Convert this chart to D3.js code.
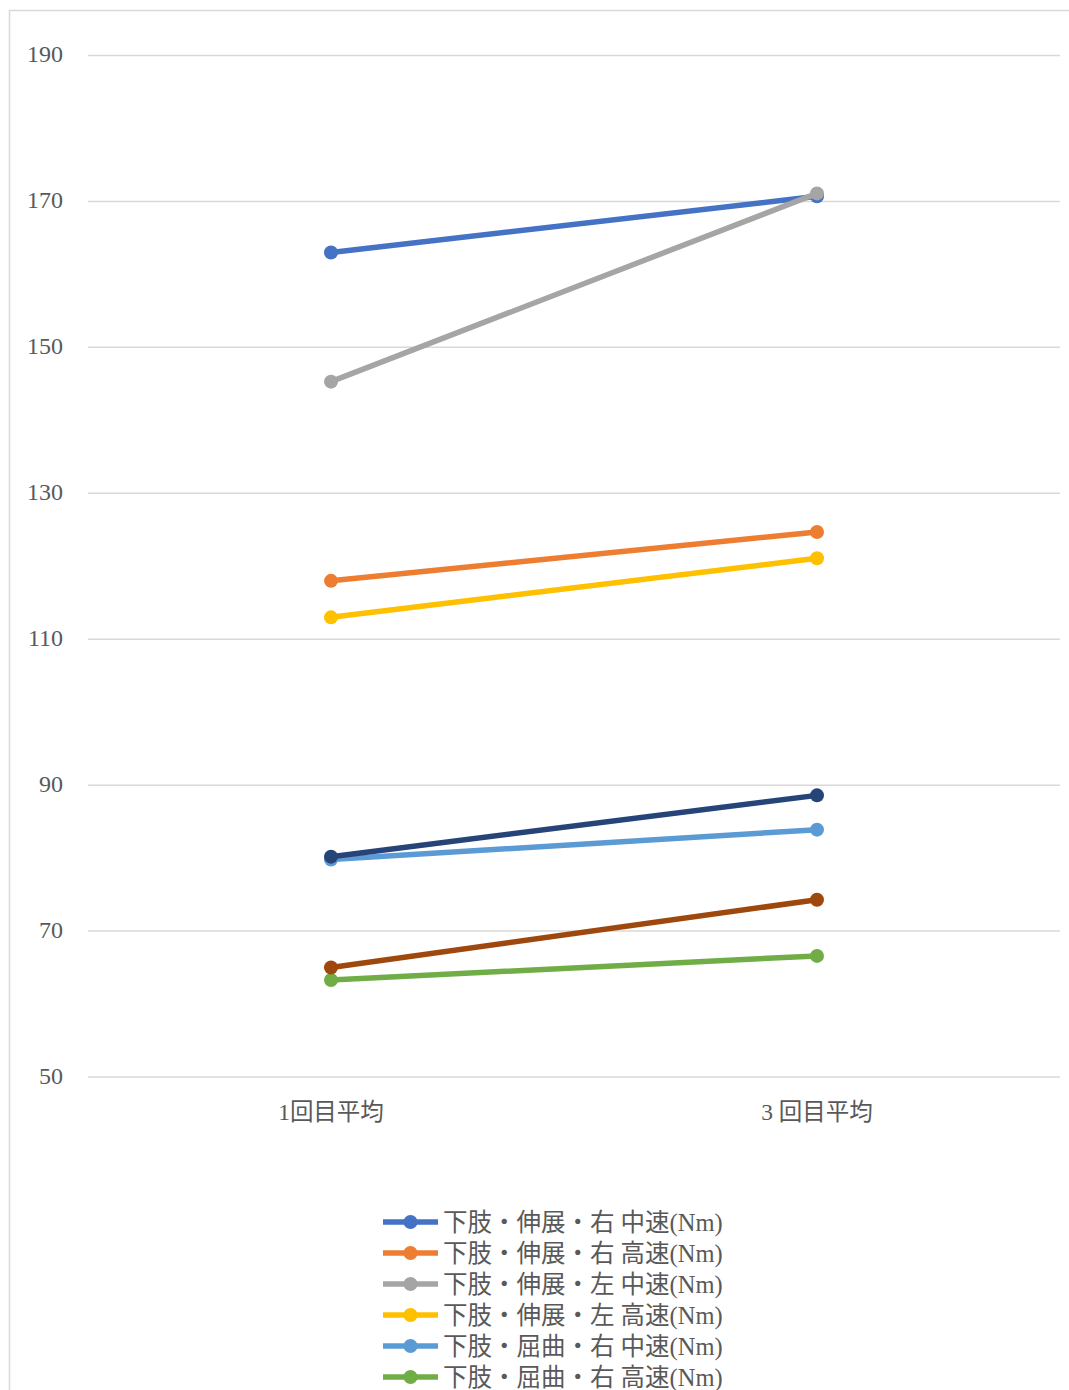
<!DOCTYPE html>
<html><head><meta charset="utf-8">
<script src="https://cdn.jsdelivr.net/npm/d3@7"></script>
<style>
html,body{margin:0;padding:0;background:#fff;overflow:hidden;}
text{font-family:"Liberation Serif","DejaVu Serif","Noto Sans CJK JP",serif;fill:#595959;}
</style></head>
<body>
<svg id="chart" width="1069" height="1390"></svg>
<script>
const categories = ["1回目平均", "3 回目平均"];
const seriesNames = [
  "下肢・伸展・右 中速(Nm)",
  "下肢・伸展・右 高速(Nm)",
  "下肢・伸展・左 中速(Nm)",
  "下肢・伸展・左 高速(Nm)",
  "下肢・屈曲・右 中速(Nm)",
  "下肢・屈曲・右 高速(Nm)",
  "下肢・屈曲・左 中速(Nm)",
  "下肢・屈曲・左 高速(Nm)"
];
const extRightMid  = [163.0, 170.7];
const extRightHigh = [118.0, 124.7];
const extLeftMid   = [145.3, 171.1];
const extLeftHigh  = [113.0, 121.1];
const flxRightMid  = [79.8, 83.9];
const flxRightHigh = [63.3, 66.6];
const flxLeftMid   = [80.2, 88.6];
const flxLeftHigh  = [65.0, 74.3];
const yTicks = [50, 70, 90, 110, 130, 150, 170, 190];
const colors = ["#4472C4","#ED7D31","#A5A5A5","#FFC000","#5B9BD5","#70AD47","#264478","#9E480E"];

const seriesValues = [extRightMid, extRightHigh, extLeftMid, extLeftHigh, flxRightMid, flxRightHigh, flxLeftMid, flxLeftHigh];
const series = seriesNames.map((n,i)=>({name:n, values:seriesValues[i], color:colors[i]}));

const svg = d3.select("#chart");
// chart frame
svg.append("rect").attr("x",9.5).attr("y",10.5).attr("width",1069).attr("height",1400)
  .attr("fill","none").attr("stroke","#d9d9d9").attr("stroke-width",1.5);

const x = d3.scaleBand().domain(categories).range([88,1060]);
const y = d3.scaleLinear().domain([50,190]).range([1077,55.5]);

// gridlines
svg.append("g").selectAll("line").data(yTicks).join("line")
  .attr("x1",88).attr("x2",1060)
  .attr("y1",d=>y(d)).attr("y2",d=>y(d))
  .attr("stroke","#d9d9d9").attr("stroke-width",1.5);

// y axis labels
const yAxis = d3.axisLeft(y).tickValues(yTicks).tickSize(0).tickPadding(0);
const gy = svg.append("g").attr("transform","translate(63,-2)").call(yAxis);
gy.select(".domain").remove();
gy.selectAll("text").attr("font-size",24).attr("dy","0.35em")
  .style("font-family",'"Liberation Serif","Noto Sans CJK JP",serif').attr("fill","#595959");

// x axis labels
const xAxis = d3.axisBottom(x).tickSize(0).tickPadding(0);
const gx = svg.append("g").attr("transform","translate(0,1112)").call(xAxis);
gx.select(".domain").remove();
gx.selectAll("text").attr("font-size",23.5).attr("dy","0.35em")
  .style("font-family",'"Liberation Serif","Noto Sans CJK JP",serif').attr("fill","#595959");

const cx = c => x(c) + x.bandwidth()/2;
const line = d3.line().x((d,i)=>cx(categories[i])).y(d=>y(d));

const gs = svg.append("g").selectAll("g").data(series).join("g");
gs.append("path").attr("d",d=>line(d.values)).attr("fill","none")
  .attr("stroke",d=>d.color).attr("stroke-width",5.5).attr("stroke-linecap","round");
gs.selectAll("circle").data(d=>d.values.map((v,i)=>({v,i,color:d.color}))).join("circle")
  .attr("cx",d=>cx(categories[d.i])).attr("cy",d=>y(d.v)).attr("r",7)
  .attr("fill",d=>d.color);

// legend
const lg = svg.append("g").selectAll("g").data(series).join("g")
  .attr("transform",(d,i)=>`translate(383,${1222 + i*31})`);
lg.append("line").attr("x1",0).attr("x2",55).attr("y1",0).attr("y2",0)
  .attr("stroke",d=>d.color).attr("stroke-width",5.5);
lg.append("circle").attr("cx",27.5).attr("cy",0).attr("r",7).attr("fill",d=>d.color);
lg.append("text").attr("x",60).attr("y",0).attr("dy","0.35em").attr("font-size",24.5)
  .text(d=>d.name);
</script>
</body></html>
